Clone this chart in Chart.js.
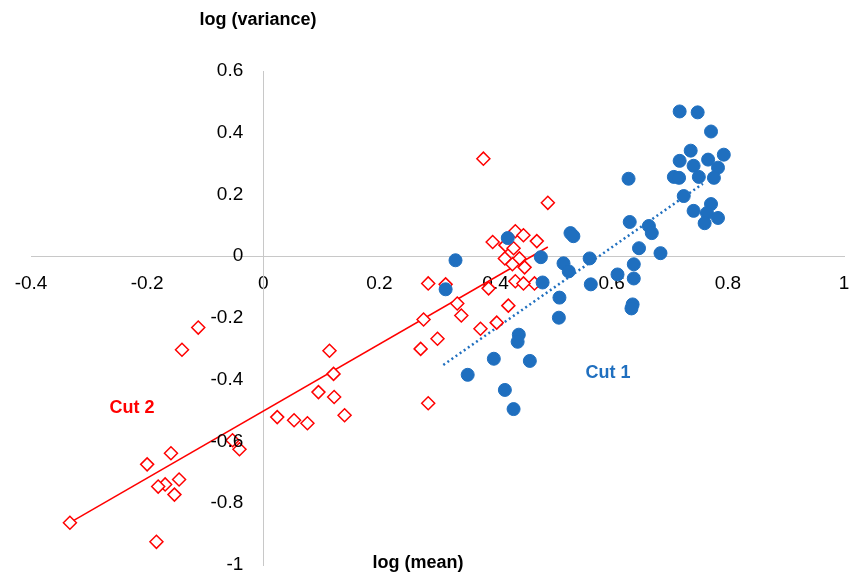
<!DOCTYPE html>
<html><head><meta charset="utf-8">
<script src="https://cdn.jsdelivr.net/npm/chart.js@4"></script>
<style>body{margin:0;background:#fff}#w{width:853px;height:575px}</style>
</head><body><div id="w"><canvas id="c"></canvas></div>
<script>
const cut1X=[0.629,0.631,0.529,0.534,0.421,0.331,0.478,0.517,0.526,0.562,0.481,0.564,0.610,0.638,0.638,0.314,0.510,0.509,0.636,0.634,0.44,0.438,0.397,0.459,0.352,0.416,0.431,0.647,
0.717,0.748,0.771,0.736,0.793,0.717,0.766,0.741,0.783,0.707,0.716,0.75,0.776,0.724,0.771,0.741,0.764,0.783,0.76,0.664,0.669,0.684];
const cut1Y=[0.251,0.111,0.075,0.065,0.059,-0.013,-0.003,-0.023,-0.049,-0.007,-0.085,-0.091,-0.059,-0.026,-0.072,-0.107,-0.134,-0.199,-0.156,-0.169,-0.254,-0.277,-0.332,-0.339,-0.384,-0.433,-0.495,0.026,
0.469,0.466,0.404,0.342,0.329,0.309,0.313,0.293,0.287,0.257,0.254,0.257,0.254,0.195,0.169,0.147,0.14,0.124,0.107,0.098,0.075,0.01];
const cut2X=[-0.112,-0.140,0.114,0.121,0.095,0.122,0.14,0.024,0.053,0.076,-0.053,-0.041,-0.159,-0.2,-0.145,-0.169,-0.181,-0.153,-0.333,-0.184,
0.379,0.49,0.434,0.448,0.395,0.471,0.417,0.431,0.416,0.441,0.429,0.45,0.388,0.434,0.467,0.448,0.284,0.314,0.334,0.276,0.341,0.422,0.3,0.271,0.374,0.402,0.284];
const cut2Y=[-0.231,-0.303,-0.306,-0.381,-0.44,-0.456,-0.515,-0.521,-0.531,-0.541,-0.596,-0.625,-0.638,-0.674,-0.723,-0.739,-0.746,-0.772,-0.863,-0.925,
0.316,0.173,0.081,0.068,0.046,0.049,0.036,0.026,-0.007,-0.007,-0.026,-0.036,-0.104,-0.081,-0.088,-0.088,-0.088,-0.091,-0.153,-0.205,-0.192,-0.16,-0.267,-0.3,-0.235,-0.215,-0.476];
const fit2X=[-0.333,0.49], fit2Y=[-0.863,0.03];
const fit1X=[0.31,0.757], fit1Y=[-0.352,0.235];
const pts=(xs,ys)=>xs.map((x,i)=>({x,y:ys[i]}));
const lbl=v=>String(Math.round(v*10)/10);
const noPad=s=>{s.paddingTop=0;s.paddingBottom=0;s.paddingLeft=0;s.paddingRight=0;};
const txt={id:'txt',afterDraw(ch){const c=ch.ctx;c.save();
const ys=ch.scales.y, x0=ch.scales.x.getPixelForValue(0);
c.font='19px "Liberation Sans",Arial';c.fillStyle='#000';c.textAlign='right';c.textBaseline='middle';
ys.ticks.forEach(t=>c.fillText(lbl(t.value),x0-20,ys.getPixelForValue(t.value)));
c.font='bold 18px "Liberation Sans",Arial';c.textAlign='center';
c.fillText('log (variance)',258,20);c.fillText('log (mean)',418,563);
c.fillStyle='#1f6fbf';c.fillText('Cut 1',608,373);c.fillStyle='#ff0000';c.fillText('Cut 2',132,408);c.restore();}};
new Chart(document.getElementById('c'),{type:'scatter',
data:{datasets:[
{data:pts(cut1X,cut1Y),pointStyle:'circle',radius:6.5,backgroundColor:'#1f6fbf',borderColor:'#1f6fbf'},
{data:pts(cut2X,cut2Y),pointStyle:'rectRot',radius:6.5,backgroundColor:'#fff',borderColor:'#ff0000',borderWidth:1.5},
{type:'line',data:pts(fit2X,fit2Y),borderColor:'#ff0000',borderWidth:1.5,pointRadius:0},
{type:'line',data:pts(fit1X,fit1Y),borderColor:'#1f6fbf',borderWidth:2.5,borderDash:[2,3],pointRadius:0}]},
options:{animation:false,responsive:true,maintainAspectRatio:false,
layout:{padding:{left:31,right:9,top:71,bottom:10}},
plugins:{legend:{display:false},tooltip:{enabled:false}},
scales:{
x:{type:'linear',min:-0.4,max:1,position:{y:0},grid:{display:false},border:{color:'#c8c8c8'},afterFit:noPad,
ticks:{stepSize:0.2,callback:lbl,color:'#000',font:{size:19,family:'"Liberation Sans",Arial'},padding:8}},
y:{type:'linear',min:-1,max:0.6,position:{x:0},grid:{display:false},border:{color:'#c8c8c8'},afterFit:noPad,
ticks:{stepSize:0.2,display:false}}}},
plugins:[txt]});
</script></body></html>
